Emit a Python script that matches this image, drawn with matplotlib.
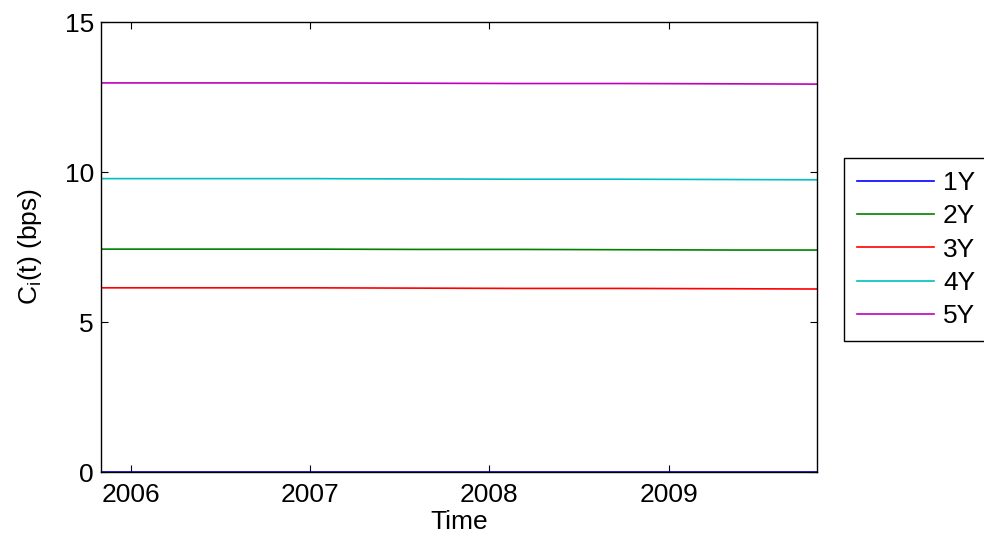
import matplotlib
matplotlib.use("Agg")
import matplotlib.pyplot as plt
import matplotlib.dates as mdates
import numpy as np

plt.rcParams['font.family'] = ['Liberation Sans', 'DejaVu Sans']
plt.rcParams['mathtext.fontset'] = 'custom'
plt.rcParams['mathtext.rm'] = 'Liberation Sans'
plt.rcParams['mathtext.it'] = 'Liberation Sans:italic'

# anchor dates and curve values (bps)
dates = np.array(['2005-11-01', '2006-06-01', '2007-01-01', '2007-08-01',
                  '2008-03-01', '2008-10-01', '2009-05-01', '2009-10-30'],
                 dtype='datetime64[D]')
labels = ['1Y', '2Y', '3Y', '4Y', '5Y']
c_1y = [0.0, 0.0, 0.0, 0.0, 0.0, 0.0, 0.0, 0.0]
c_2y = [7.43, 7.43, 7.43, 7.42, 7.42, 7.41, 7.40, 7.40]
c_3y = [6.14, 6.14, 6.14, 6.13, 6.12, 6.12, 6.11, 6.10]
c_4y = [9.78, 9.78, 9.78, 9.77, 9.76, 9.76, 9.75, 9.74]
c_5y = [12.97, 12.97, 12.97, 12.96, 12.95, 12.95, 12.94, 12.93]
colors = ['#0000ff', '#008000', '#ff0000', '#00bfbf', '#bf00bf']

fs = 19
fig = plt.figure(figsize=(9.84, 5.37), dpi=100)
ax = fig.add_axes([0.1026, 0.121, 0.7274, 0.838])

x = dates.astype('datetime64[ms]').astype(object)
for vals, c, lab in zip([c_1y, c_2y, c_3y, c_4y, c_5y], colors, labels):
    ax.plot(x, vals, color=c, lw=1.2, label=lab)

ax.set_xlim(x[0], x[-1])
ax.set_ylim(0, 15)
ax.set_yticks([0, 5, 10, 15])
ax.xaxis.set_major_locator(mdates.YearLocator())
ax.xaxis.set_major_formatter(mdates.DateFormatter('%Y'))
ax.tick_params(direction='in', length=5, width=0.8, labelsize=fs,
               top=True, right=True, colors='black')
ax.tick_params(axis='x', pad=8)
ax.tick_params(axis='y', pad=5)
for s in ax.spines.values():
    s.set_linewidth(1.0)

ax.set_xlabel('Time', fontsize=fs, labelpad=2)
ax.set_ylabel(r'C$_\mathrm{i}$(t) (bps)', fontsize=fs)
ax.yaxis.set_label_coords(-0.08, 0.5)

leg = fig.legend(loc='upper left', bbox_to_anchor=(0.8577, 0.706),
                 borderaxespad=0, fontsize=fs, frameon=True, fancybox=False,
                 handlelength=2.9, handletextpad=0.35, borderpad=0.5,
                 labelspacing=0.35)
leg.get_frame().set_edgecolor('black')
leg.get_frame().set_linewidth(1.0)
leg.get_frame().set_alpha(1)

fig.savefig('out.png', dpi=100)
